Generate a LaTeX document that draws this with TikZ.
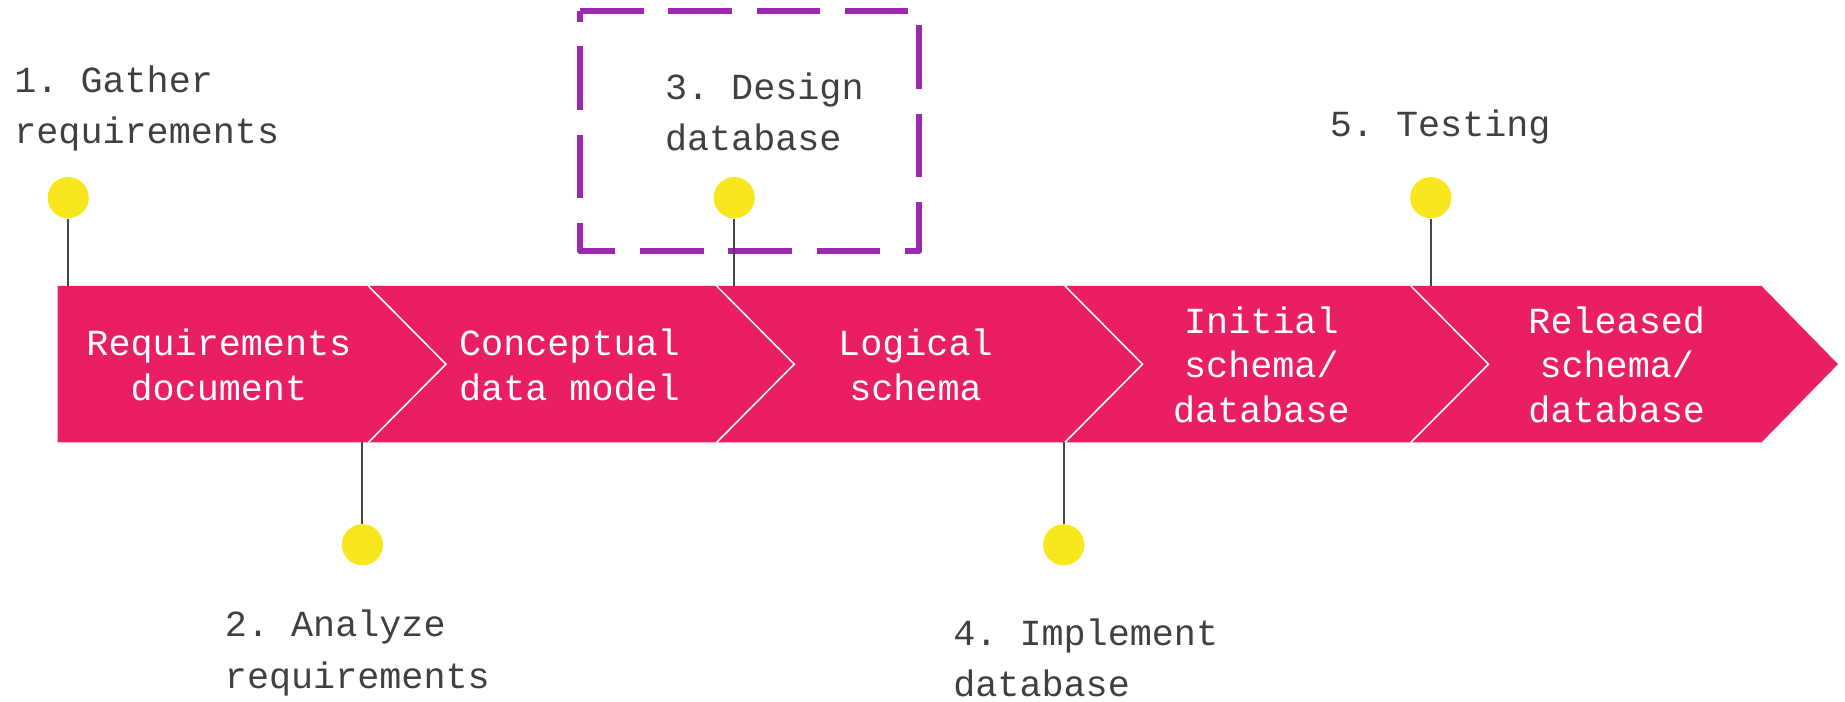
\documentclass[tikz,border=0pt]{standalone}
\usepackage{fontspec}
\setmonofont{Liberation Mono}
\definecolor{bannerpink}{HTML}{E91E63}
\definecolor{dotyellow}{HTML}{F8E71C}
\definecolor{framepurple}{HTML}{9C27B0}
\definecolor{labelgray}{HTML}{404040}
\definecolor{stemgray}{HTML}{474747}
\newcommand\lblfont{\ttfamily\fontsize{31.25}{43.5}\selectfont}
\newcommand\stgfont{\ttfamily\fontsize{31.25}{38}\selectfont}
\tikzset{
  steplabel/.style={anchor=west, align=left, inner sep=0pt, font=\lblfont, text=labelgray},
  stagetext/.style={align=center, inner sep=0pt, font=\stgfont, text=white},
  milestone/.style={circle, fill=dotyellow, minimum size=35pt, inner sep=0pt},
  stem/.style={draw=stemgray, line width=1.6pt},
  divider/.style={draw=white, line width=1.3pt},
  focusframe/.style={draw=framepurple, line width=5.5pt, line join=round,
    dash pattern=on 54pt off 21pt},
}
\begin{document}
\begin{tikzpicture}[x=1pt,y=-1pt]
\useasboundingbox (0,0) rectangle (1568,596);

% highlighted design step
\draw[focusframe] (493,9.5) -- (781,9.5) -- (781,213.5) -- (493,213.5) -- cycle;

% the deliverables banner
\fill[bannerpink] (49,243) -- (1497,243) -- (1562,309.5) -- (1497,376) -- (49,376) -- cycle;
\foreach \x in {313,609,905,1199}
  \draw[divider] (\x,243) -- (\x+66,309.5) -- (\x,376);

% deliverable captions
\node[stagetext] (s1) at (186,310) {Requirements\\document};
\node[stagetext] (s2) at (484,310) {Conceptual\\data model};
\node[stagetext] (s3) at (778,310) {Logical\\schema};
\node[stagetext] (s4) at (1072,310) {Initial\\schema/\\database};
\node[stagetext] (s5) at (1374,310) {Released\\schema/\\database};

% milestones
\node[milestone] (d1) at (58,168) {};
\node[milestone] (d2) at (308,463) {};
\node[milestone] (d3) at (624,168) {};
\node[milestone] (d4) at (904,463) {};
\node[milestone] (d5) at (1216,168) {};

\coordinate (e1) at (58,243);
\coordinate (e2) at (308,376);
\coordinate (e3) at (624,243);
\coordinate (e4) at (904,376);
\coordinate (e5) at (1216,243);

\draw[stem] (d1.south) -- (e1);
\draw[stem] (d2.north) -- (e2);
\draw[stem] (d3.south) -- (e3);
\draw[stem] (d4.north) -- (e4);
\draw[stem] (d5.south) -- (e5);

% step labels
\node[steplabel] (l1) at (12,92) {1. Gather\\requirements};
\node[steplabel] (l2) at (191,555) {2. Analyze\\requirements};
\node[steplabel] (l3) at (565,95) {3. Design\\database};
\node[steplabel] (l4) at (810,559) {4. Implement\\database};
\node[steplabel] (l5) at (1130,108) {5. Testing};
\end{tikzpicture}
\end{document}
